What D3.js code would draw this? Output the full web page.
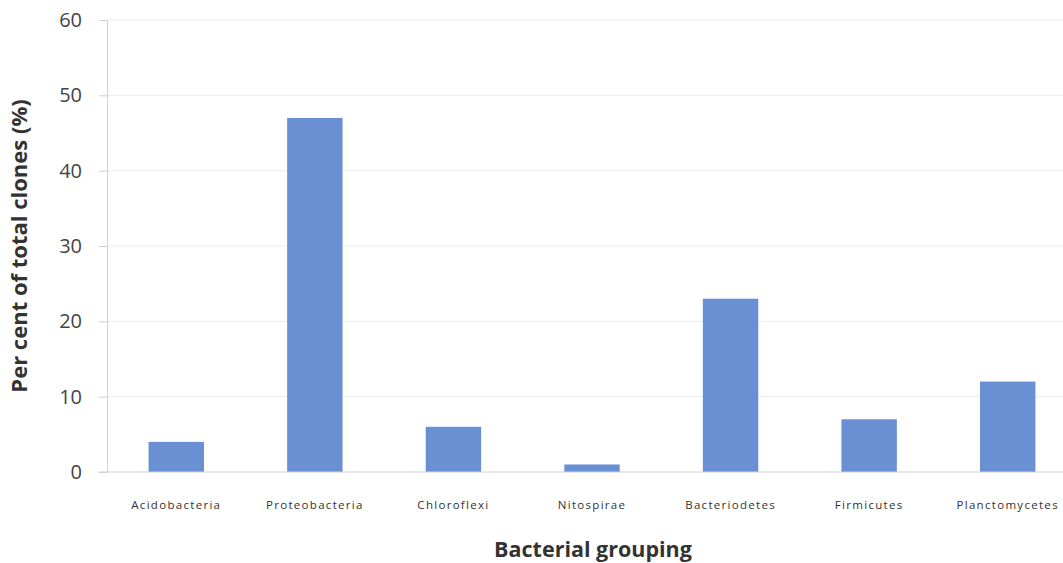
<!DOCTYPE html>
<html>
<head>
<meta charset="utf-8">
<script src="https://cdn.jsdelivr.net/npm/d3@7"></script>
<style>
  body { margin: 0; background: #fff; }
  svg { display: block; font-family: "Open Sans", "Liberation Sans", sans-serif; }
</style>
</head>
<body>
<svg id="chart"></svg>
<script>
// data
var categories = ["Acidobacteria", "Proteobacteria", "Chloroflexi", "Nitospirae",
                  "Bacteriodetes", "Firmicutes", "Planctomycetes"];
var values = [4, 47, 6, 1, 23, 7, 12];
var yTicks = [0, 10, 20, 30, 40, 50, 60];

var width = 1063, height = 563;
var margin = {top: 20, right: 0, bottom: 91, left: 107};

var svg = d3.select("#chart")
    .attr("width", width)
    .attr("height", height);

var x = d3.scaleBand()
    .domain(categories)
    .range([margin.left, 1077])
    .paddingInner(0.6)
    .paddingOuter(0.3);

var y = d3.scaleLinear()
    .domain([0, 60])
    .range([height - margin.bottom, margin.top]);

// faint gridlines
svg.append("g")
    .selectAll("line")
    .data(yTicks.slice(1))
    .enter().append("line")
        .attr("x1", margin.left)
        .attr("x2", width)
        .attr("y1", function(d) { return y(d); })
        .attr("y2", function(d) { return y(d); })
        .attr("stroke", "#ededed")
        .attr("stroke-width", 1);

// y axis
var yAxis = svg.append("g")
    .attr("transform", "translate(" + margin.left + ",0)")
    .attr("font-family", null)
    .call(d3.axisLeft(y).tickValues(yTicks).tickSize(8).tickPadding(17).tickSizeOuter(0));
yAxis.attr("font-family", null).attr("font-size", null);
yAxis.select(".domain").attr("stroke", "#d0d0d0");
yAxis.selectAll(".tick line").attr("stroke", "#d0d0d0");
yAxis.selectAll(".tick text")
    .attr("fill", "#444")
    .style("font-size", "20px");

// bars
svg.append("g")
    .selectAll("rect")
    .data(values)
    .enter().append("rect")
        .attr("x", function(d, i) { return x(categories[i]); })
        .attr("y", function(d) { return y(d); })
        .attr("width", x.bandwidth())
        .attr("height", function(d) { return y(0) - y(d); })
        .attr("fill", "#6a90d4");

// x axis
var xAxis = svg.append("g")
    .attr("transform", "translate(0," + y(0) + ")")
    .call(d3.axisBottom(x).tickSize(0).tickPadding(29).tickSizeOuter(0));
xAxis.attr("font-family", null).attr("font-size", null);
xAxis.select(".domain").remove();
xAxis.append("line")
    .attr("x1", 99).attr("x2", width)
    .attr("stroke", "#d0d0d0");
xAxis.selectAll(".tick text")
    .attr("fill", "#333")
    .style("font-size", "11.5px")
    .style("letter-spacing", "1.3px");

// axis titles
svg.append("text")
    .attr("x", 593)
    .attr("y", 557)
    .attr("text-anchor", "middle")
    .attr("fill", "#333")
    .style("font-size", "21.5px")
    .style("font-weight", "bold")
    .text("Bacterial grouping");

svg.append("text")
    .attr("transform", "translate(27,246) rotate(-90)")
    .attr("text-anchor", "middle")
    .attr("fill", "#333")
    .style("font-size", "22px")
    .style("font-weight", "bold")
    .text("Per cent of total clones (%)");
</script>
</body>
</html>
